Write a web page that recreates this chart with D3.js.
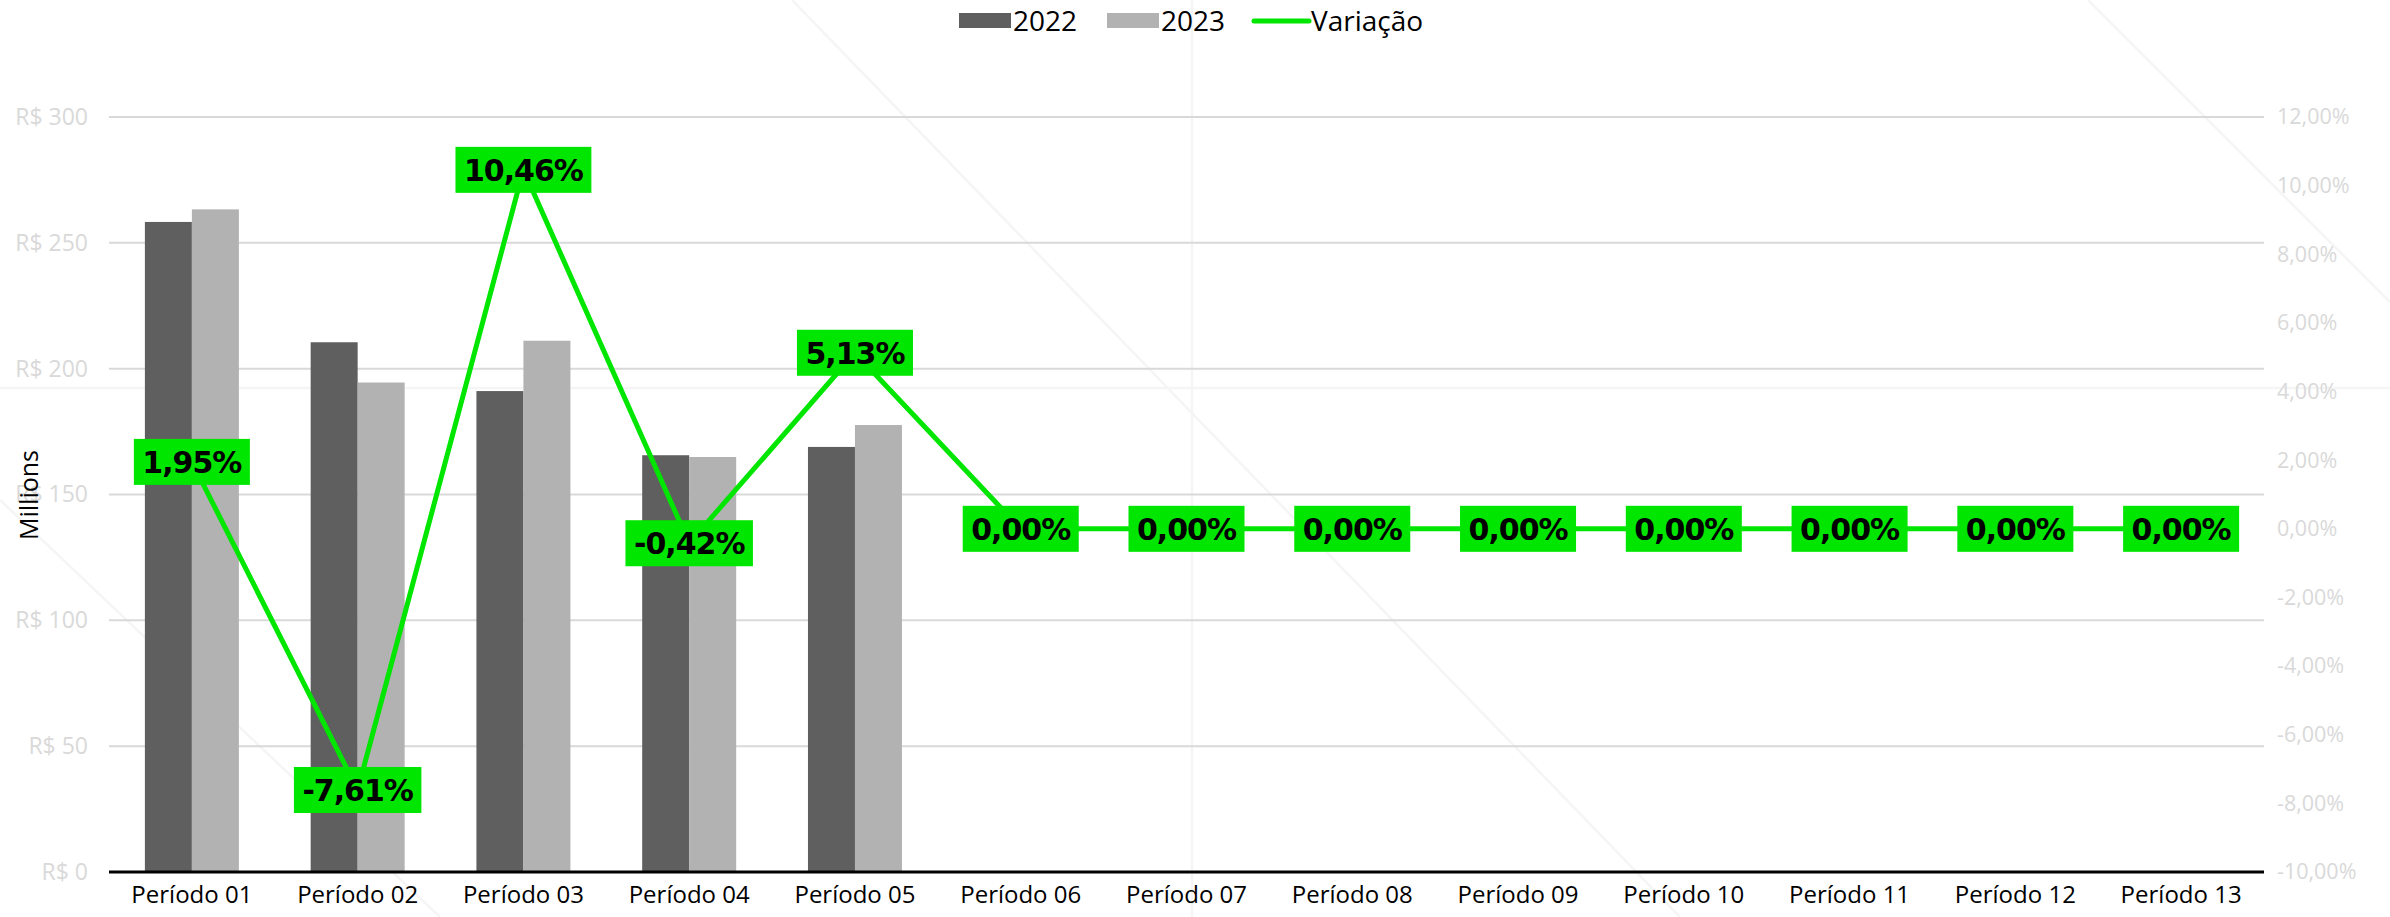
<!DOCTYPE html>
<html><head><meta charset="utf-8">
<script src="https://cdn.jsdelivr.net/npm/d3@7"></script>
<style>
html,body{margin:0;padding:0;background:#fff;}
svg{display:block;font-family:"Open Sans","Noto Sans",sans-serif;}
</style></head>
<body>
<svg id="chart" width="2390" height="917"></svg>
<script>
const categories = ["Período 01","Período 02","Período 03","Período 04","Período 05","Período 06","Período 07","Período 08","Período 09","Período 10","Período 11","Período 12","Período 13"];
const values2022 = [258.3, 210.5, 191.1, 165.6, 168.9, null, null, null, null, null, null, null, null];
const values2023 = [263.3, 194.5, 211.1, 164.9, 177.6, null, null, null, null, null, null, null, null];
const variacao = [1.95, -7.61, 10.46, -0.42, 5.13, 0, 0, 0, 0, 0, 0, 0, 0];
const leftTicks = [0, 50, 100, 150, 200, 250, 300];
const rightTicks = [-10, -8, -6, -4, -2, 0, 2, 4, 6, 8, 10, 12];
const seriesNames = ["2022", "2023", "Variação"];

const svg = d3.select("#chart");
const W = 2390, H = 917;
const m = {left: 109, right: 2264, top: 117, bottom: 872};
const colors = {d: "#5f5f5f", l: "#b2b2b2", g: "#00e600"};
const pct = v => d3.format(".2f")(v).replace(".", ",").replace("\u2212", "-") + "%";

const x = d3.scaleBand().domain(categories).range([m.left, m.right]).paddingInner(0.433).paddingOuter(0.2165);
const xs = d3.scaleBand().domain(["2022","2023"]).range([0, x.bandwidth()]);
const yL = d3.scaleLinear().domain([0, 300]).range([m.bottom, m.top]);
const yR = d3.scaleLinear().domain([-10, 12]).range([m.bottom, m.top]);

// faint background decorations
const deco = svg.append("g").attr("stroke", "#f5f5f5").attr("stroke-width", 2.5).attr("fill", "none");
deco.append("line").attr("x1", 0).attr("x2", W).attr("y1", 388).attr("y2", 388);
deco.append("line").attr("x1", 1192).attr("x2", 1192).attr("y1", 0).attr("y2", H);
deco.append("line").attr("x1", 0).attr("y1", 500).attr("x2", 440).attr("y2", H);
deco.append("line").attr("x1", 792).attr("y1", 0).attr("x2", 1680).attr("y2", H);
deco.append("line").attr("x1", 2088).attr("y1", 0).attr("x2", 2390).attr("y2", 302);

// gridlines
svg.append("g").selectAll("line").data(leftTicks.filter(d => d > 0)).join("line")
  .attr("x1", m.left).attr("x2", m.right)
  .attr("y1", d => yL(d)).attr("y2", d => yL(d))
  .attr("stroke", "#d9d9d9").attr("stroke-width", 2);

// left axis labels
const leftAxis = d3.axisLeft(yL).tickValues(leftTicks).tickSize(0).tickPadding(0).tickFormat(d => "R$ " + d);
const gL = svg.append("g").attr("transform", `translate(88,0)`).call(leftAxis);
gL.select(".domain").remove();
gL.selectAll("text").attr("fill", "#d9d9d9").attr("font-size", 23).attr("font-family", "'Open Sans',sans-serif");

// right axis labels
const rightAxis = d3.axisRight(yR).tickValues(rightTicks).tickSize(0).tickPadding(0).tickFormat(pct);
const gR = svg.append("g").attr("transform", `translate(2277,0)`).call(rightAxis);
gR.select(".domain").remove();
gR.selectAll("text").attr("fill", "#d9d9d9").attr("font-size", 21.5).attr("font-family", "'Open Sans',sans-serif");

// bars
const barG = svg.append("g");
categories.forEach((c, i) => {
  [["2022", values2022[i], colors.d], ["2023", values2023[i], colors.l]].forEach(([k, v, col]) => {
    if (v == null) return;
    barG.append("rect")
      .attr("x", x(c) + xs(k)).attr("width", xs.bandwidth())
      .attr("y", yL(v)).attr("height", yL(0) - yL(v))
      .attr("fill", col);
  });
});

// x axis
const xAxis = d3.axisBottom(x).tickSize(0).tickPadding(14);
const gX = svg.append("g").attr("transform", `translate(0,${m.bottom})`).call(xAxis);
gX.select(".domain").attr("stroke", "#000").attr("stroke-width", 3).attr("d", `M${m.left},0H${m.right}`);
gX.selectAll("text").attr("fill", "#000").attr("font-size", 24).attr("font-family", "'Open Sans',sans-serif");

// y axis title
svg.append("text").attr("transform", "translate(38,495) rotate(-90)")
  .attr("text-anchor", "middle").attr("font-size", 25).attr("fill", "#000").text("Millions");

// line
const pts = categories.map((c, i) => [x(c) + x.bandwidth() / 2, yR(variacao[i])]);
svg.append("path").attr("d", d3.line()(pts)).attr("fill", "none")
  .attr("stroke", colors.g).attr("stroke-width", 5).attr("stroke-linejoin", "miter");

// labels
const lblG = svg.append("g");
categories.forEach((c, i) => {
  const [px, py] = pts[i];
  const g = lblG.append("g").attr("transform", `translate(${px},${py})`);
  const r = g.append("rect").attr("fill", colors.g);
  const t = g.append("text").attr("text-anchor", "middle").attr("dy", "0.36em")
    .attr("font-family", "'DejaVu Sans',sans-serif")
    .attr("font-size", 30).attr("font-weight", 700).attr("fill", "#000").attr("letter-spacing", -1)
    .text(pct(variacao[i]));
  const bb = t.node().getBBox();
  r.attr("x", -bb.width / 2 - 8).attr("width", bb.width + 16).attr("y", -23).attr("height", 46);
});

// legend
const lg = svg.append("g").attr("font-size", 28).attr("fill", "#000");
lg.append("rect").attr("x", 959).attr("y", 13).attr("width", 52).attr("height", 15).attr("fill", colors.d);
lg.append("text").attr("x", 1013).attr("y", 21).attr("dy", "0.35em").text(seriesNames[0]);
lg.append("rect").attr("x", 1107).attr("y", 13).attr("width", 52).attr("height", 15).attr("fill", colors.l);
lg.append("text").attr("x", 1161).attr("y", 21).attr("dy", "0.35em").text(seriesNames[1]);
lg.append("line").attr("x1", 1254).attr("x2", 1309).attr("y1", 21).attr("y2", 21).attr("stroke", colors.g).attr("stroke-width", 5).attr("stroke-linecap", "round");
lg.append("text").attr("x", 1311).attr("y", 21).attr("dy", "0.35em").text(seriesNames[2]);
</script>
</body></html>
